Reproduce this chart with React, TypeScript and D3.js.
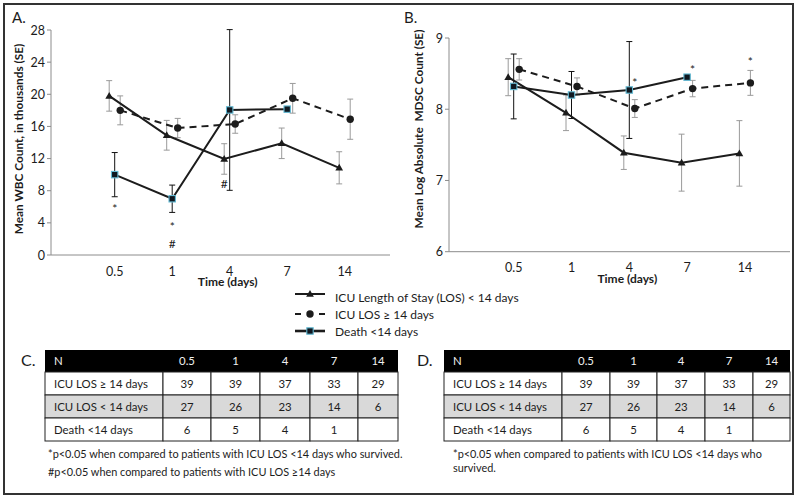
import * as d3 from 'd3'

// time points shared by both charts and both tables
const days = ['0.5', '1', '4', '7', '14']

// A. mean WBC count (thousands) and SE
const wbcShort = [19.8, 14.9, 11.95, 13.9, 10.85]
const wbcShortSE = [1.9, 1.85, 1.9, 1.9, 2.0]
const wbcLong = [18.0, 15.8, 16.3, 19.5, 16.9]
const wbcLongSE = [1.8, 1.2, 1.15, 1.85, 2.5]
const wbcDeath = [10.0, 7.0, 18.05, 18.15, null]
const wbcDeathSE = [2.75, 1.7, 10.0, 0, null]

// B. mean log absolute MDSC count and SE
const mdscShort = [8.45, 7.95, 7.39, 7.25, 7.38]
const mdscShortSE = [0.26, 0.25, 0.235, 0.4, 0.46]
const mdscLong = [8.56, 8.32, 8.01, 8.29, 8.37]
const mdscLongSE = [0.15, 0.12, 0.125, 0.115, 0.175]
const mdscDeath = [8.32, 8.2, 8.27, 8.45, null]
const mdscDeathSE = [0.455, 0.33, 0.68, 0, null]

const wbcTicks = [0, 4, 8, 12, 16, 20, 24, 28]
const mdscTicks = [6, 7, 8, 9]

// significance marks, placed in data units
const wbcNotes = [
  { day: '0.5', value: 5.2, mark: '*', series: 'death' },
  { day: '1', value: 3.0, mark: '*', series: 'death' },
  { day: '1', value: 0.9, mark: '#', series: 'death' },
  { day: '4', value: 8.3, mark: '#', series: 'short' },
]
const mdscNotes = [
  { day: '4', value: 8.31, mark: '*', series: 'long' },
  { day: '7', value: 8.5, mark: '*', series: 'long' },
  { day: '14', value: 8.6, mark: '*', series: 'long' },
]

const legendLabels = ['ICU Length of Stay (LOS) < 14 days', 'ICU LOS \u2265 14 days', 'Death <14 days']

// N table
const tableRows = ['ICU LOS \u2265 14 days', 'ICU LOS < 14 days', 'Death <14 days']
const tableCounts = [
  [39, 39, 37, 33, 29],
  [27, 26, 23, 14, 6],
  [6, 5, 4, 1, null],
]

const FONT = 'Lato, "Open Sans", sans-serif'
const INK = '#1c1c1c'
const AXIS = '#8c8c8c'
const offsets = { short: -5.5, death: 0, long: 5.5 }

const Marker = ({ kind, x, y }) => {
  if (kind === 'short') {
    return <path d={d3.symbol(d3.symbolTriangle, 26)()} transform={`translate(${x},${y + 0.5})`} fill={INK} />
  }
  if (kind === 'long') {
    return <circle cx={x} cy={y} r={3.7} fill={INK} />
  }
  return <rect x={x - 3.2} y={y - 3.2} width={6.4} height={6.4} fill='#101820' stroke='#62b9d3' strokeWidth={1.1} />
}

const Panel = ({ axisX0, axisX1, yTop, yBottom, catRange, domain, ticks, series, notes, title, titleX, titleY, label, labelX }) => {
  const x = d3.scalePoint().domain(days).range(catRange)
  const y = d3.scaleLinear().domain(domain).range([yBottom, yTop])

  return (
    <g fontFamily={FONT} fill={INK}>
      <text x={labelX} y={23} fontSize={15}>{label}</text>

      {/* axes */}
      <line x1={axisX0} x2={axisX0} y1={y(domain[1])} y2={y(domain[0])} stroke={AXIS} />
      <line x1={axisX0} x2={axisX1} y1={y(domain[0])} y2={y(domain[0])} stroke={AXIS} />
      {ticks.map(t =>
        <g key={t}>
          <line x1={axisX0 - 4} x2={axisX0} y1={y(t)} y2={y(t)} stroke={AXIS} />
          <text x={axisX0 - 6} y={y(t) + 4.5} fontSize={12.5} textAnchor='end'>{t}</text>
        </g>
      )}
      {days.map(d =>
        <text key={d} x={x(d)} y={y(domain[0]) + 20.5} fontSize={12.5} textAnchor='middle'>{d}</text>
      )}
      <text x={(catRange[0] + catRange[1]) / 2 - 2} y={y(domain[0]) + 31} fontSize={12} fontWeight='bold' textAnchor='middle'>Time (days)</text>
      <text transform={`translate(${titleX},${titleY}) rotate(-90)`} fontSize={11.8} fontWeight='bold' textAnchor='middle'>{title}</text>

      {/* error bars */}
      {series.map(s =>
        <g key={s.kind + 'err'} stroke={s.barColor} strokeWidth={1}>
          {s.values.map((v, i) => {
            const se = s.se[i]
            if (v == null || !se) return null
            const cx = x(days[i]) + offsets[s.kind]
            return (
              <g key={i}>
                <line x1={cx} x2={cx} y1={y(v - se)} y2={y(v + se)} />
                <line x1={cx - 3} x2={cx + 3} y1={y(v - se)} y2={y(v - se)} />
                <line x1={cx - 3} x2={cx + 3} y1={y(v + se)} y2={y(v + se)} />
              </g>
            )
          })}
        </g>
      )}

      {/* lines */}
      {series.map(s => {
        const line = d3.line()
          .defined(d => d[1] != null)
          .x(d => x(d[0]) + offsets[s.kind])
          .y(d => y(d[1]))
        return (
          <path key={s.kind + 'line'} d={line(days.map((d, i) => [d, s.values[i]]))}
            fill='none' stroke={INK} strokeWidth={2}
            strokeDasharray={s.kind === 'long' ? '7,5' : null} />
        )
      })}

      {/* markers */}
      {series.map(s =>
        <g key={s.kind + 'mk'}>
          {s.values.map((v, i) => v == null ? null :
            <Marker key={i} kind={s.kind} x={x(days[i]) + offsets[s.kind]} y={y(v)} />
          )}
        </g>
      )}

      {notes.map((n, i) =>
        <text key={i} x={x(n.day) + offsets[n.series]} y={y(n.value)} fontSize={12} textAnchor='middle'>{n.mark}</text>
      )}
    </g>
  )
}

const Legend = () => {
  const rows = [
    { kind: 'short', y: 294, ty: 302 },
    { kind: 'long', y: 314, ty: 319 },
    { kind: 'death', y: 331, ty: 335.5 },
  ]
  return (
    <g fontFamily={FONT} fill={INK}>
      {rows.map((r, i) =>
        <g key={r.kind}>
          {r.kind === 'long'
            ? <>
                <line x1={295} x2={301} y1={r.y} y2={r.y} stroke={INK} strokeWidth={2} />
                <line x1={319} x2={325} y1={r.y} y2={r.y} stroke={INK} strokeWidth={2} />
              </>
            : <line x1={295} x2={325} y1={r.y} y2={r.y} stroke={INK} strokeWidth={r.kind === 'death' ? 2.6 : 2} />}
          <Marker kind={r.kind} x={310} y={r.y} />
          <text x={335} y={r.ty} fontSize={12}>{legendLabels[i]}</text>
        </g>
      )}
    </g>
  )
}

const NTable = ({ edges, label, labelX, textX }) => {
  const rowTops = [372, 395, 418]
  const rowH = 23
  const left = edges[0], right = edges[edges.length - 1]
  const fills = ['#ffffff', '#d9d9d9', '#ffffff']
  const center = i => (edges[i + 1] + edges[i + 2]) / 2
  return (
    <g fontFamily={FONT} fontSize={11.4}>
      <text x={labelX} y={366} fontSize={16} fill={INK}>{label}</text>
      <rect x={left} y={350} width={right - left} height={22} fill='#000' />
      <text x={textX} y={365} fill='#f0f0f0'>N</text>
      {days.map((d, i) =>
        <text key={d} x={center(i)} y={365} fill='#f0f0f0' textAnchor='middle'>{d}</text>
      )}
      {tableRows.map((r, j) =>
        <g key={r}>
          {edges.slice(0, -1).map((e, k) =>
            <rect key={k} x={e} y={rowTops[j]} width={edges[k + 1] - e} height={rowH}
              fill={fills[j]} stroke='#222' strokeWidth={1} />
          )}
          <text x={textX} y={rowTops[j] + 16} fill={INK}>{r}</text>
          {tableCounts[j].map((c, i) => c == null ? null :
            <text key={i} x={center(i)} y={rowTops[j] + 16} fill={INK} textAnchor='middle'>{c}</text>
          )}
        </g>
      )}
    </g>
  )
}

export default function App() {
  const wbcSeries = [
    { kind: 'short', values: wbcShort, se: wbcShortSE, barColor: '#9a9a9a' },
    { kind: 'long', values: wbcLong, se: wbcLongSE, barColor: '#9a9a9a' },
    { kind: 'death', values: wbcDeath, se: wbcDeathSE, barColor: '#111' },
  ]
  const mdscSeries = [
    { kind: 'short', values: mdscShort, se: mdscShortSE, barColor: '#9a9a9a' },
    { kind: 'long', values: mdscLong, se: mdscLongSE, barColor: '#9a9a9a' },
    { kind: 'death', values: mdscDeath, se: mdscDeathSE, barColor: '#111' },
  ]

  return (
    <svg width={800} height={500} style={{ position: 'absolute', left: 0, top: 0, background: '#fff' }}>
      <rect x={4} y={4} width={789} height={490} fill='none' stroke='#333' strokeWidth={2} />

      <Panel axisX0={51} axisX1={390} yTop={30} yBottom={255} catRange={[114.7, 344.7]}
        domain={[0, 28]} ticks={wbcTicks} series={wbcSeries} notes={wbcNotes}
        title='Mean WBC Count, in thousands (SE)' titleX={23} titleY={139} label='A.' labelX={12} />

      <Panel axisX0={449} axisX1={790} yTop={38} yBottom={251.7} catRange={[513.7, 744.9]}
        domain={[6, 9]} ticks={mdscTicks} series={mdscSeries} notes={mdscNotes}
        title={'Mean Log Absolute \u00a0MDSC Count (SE)'} titleX={423} titleY={129} label='B.' labelX={404} />

      <Legend />

      <NTable edges={[45, 163, 211, 260, 310, 358, 398]} label='C.' labelX={21} textX={54} />
      <NTable edges={[444, 562, 610, 657, 705, 753, 790]} label='D.' labelX={417} textX={453} />

      <g fontFamily={FONT} fontSize={10.9} fill={INK}>
        <text x={48} y={458}>*p&lt;0.05 when compared to patients with ICU LOS &lt;14 days who survived.</text>
        <text x={48} y={476}>#p&lt;0.05 when compared to patients with ICU LOS {'\u2265'}14 days</text>
        <text x={453} y={458}>*p&lt;0.05 when compared to patients with ICU LOS &lt;14 days who</text>
        <text x={453} y={472}>survived.</text>
      </g>
    </svg>
  )
}
